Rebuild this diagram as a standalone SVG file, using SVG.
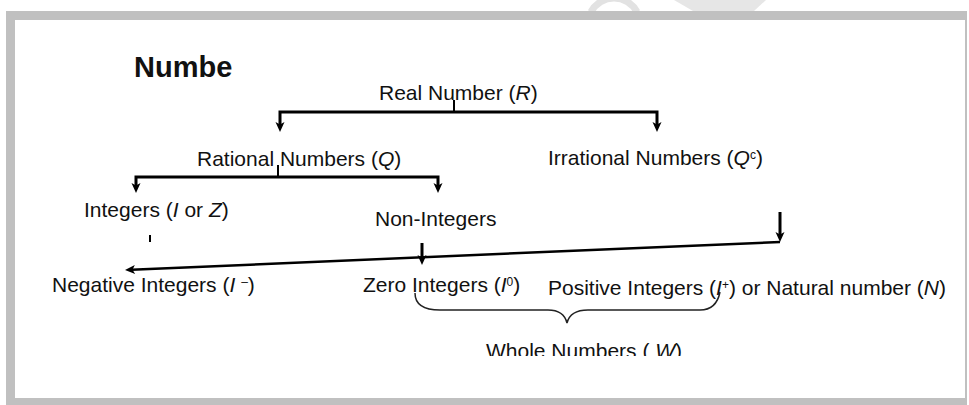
<svg xmlns="http://www.w3.org/2000/svg" width="969" height="405" viewBox="0 0 969 405">
<style>
text{font-family:"Liberation Sans",Arial,sans-serif;font-size:21px;fill:#111}
.it{font-style:italic}
.sup{font-size:12px}
.ln{fill:none;stroke:#000;stroke-width:3}
.tk{fill:none;stroke:#000;stroke-width:2}
.br{fill:none;stroke:#222;stroke-width:1.5}
</style>
<defs>
<marker id="ah" viewBox="-1 -6 13 12" markerWidth="13" markerHeight="12" refX="3.5" refY="0" orient="auto" markerUnits="userSpaceOnUse">
<path d="M0,-4.5 L10,0 L0,4.5 L2.5,0 Z" fill="#000"/>
</marker>
<clipPath id="clipZero"><rect x="340" y="260" width="200" height="36"/></clipPath>
<clipPath id="clipWhole"><rect x="470" y="330" width="230" height="26"/></clipPath>
</defs>
<g id="watermark">
<path d="M591,12 A26,26 0 0 1 637,12" fill="none" stroke="#e2e2e2" stroke-width="7"/>
<polygon points="674,0 766,0 754,11 693,11" fill="#e6e6e6"/>
</g>
<g id="frame">
<rect x="6" y="11" width="961" height="394" fill="#c0c0c0"/>
<rect x="15" y="20" width="950" height="378" fill="#fff"/>
</g>
<g id="connectors">
<path class="tk" d="M454,100 V112"/>
<path class="ln" d="M454,112 H280 V125.5" marker-end="url(#ah)"/>
<path class="ln" d="M454,112 H657 V125.5" marker-end="url(#ah)"/>
<path class="tk" d="M278,165 V177"/>
<path class="ln" d="M278,177 H136 V186.5" marker-end="url(#ah)"/>
<path class="ln" d="M278,177 H438 V186.5" marker-end="url(#ah)"/>
<path class="tk" d="M150,235 V242"/>
<path class="ln" d="M422,243 V258.5" marker-end="url(#ah)"/>
<path class="ln" d="M780,212 V235.5" marker-end="url(#ah)"/>
<path d="M780,242 L131.5,269.7" fill="none" stroke="#000" stroke-width="2.5" marker-end="url(#ah)"/>
<path class="br" d="M415,293 C415,305 425,310 440,310 L548,310 C560,310 565,315 567,323 C569,315 575,310 588,310 L700,310 C712,310 718,302 720,292"/>
</g>
<g id="title"><text x="134" y="77" style="font-weight:bold;font-size:29px">Numbe</text></g>
<g id="real"><text x="379" y="100">Real Number (<tspan class="it">R</tspan>)</text></g>
<g id="rational"><text x="197" y="166">Rational Numbers (<tspan class="it">Q</tspan>)</text></g>
<g id="irrational"><text x="548" y="165">Irrational Numbers (<tspan class="it">Q</tspan><tspan class="sup" dy="-6">c</tspan><tspan dy="6">)</tspan></text></g>
<g id="integers"><text x="84" y="217">Integers (<tspan class="it">I</tspan> or <tspan class="it">Z</tspan>)</text></g>
<g id="non-integers"><text x="375" y="226">Non-Integers</text></g>
<g id="negative"><text x="52" y="292">Negative Integers (<tspan class="it">I</tspan> <tspan class="sup" dy="-6">–</tspan><tspan dy="6">)</tspan></text></g>
<g id="zero"><text x="363" y="292" clip-path="url(#clipZero)">Zero Integers (<tspan class="it">I</tspan><tspan class="sup" dy="-6">0</tspan><tspan dy="6">)</tspan></text></g>
<g id="positive"><text x="548" y="295">Positive Integers (<tspan class="it">I</tspan><tspan class="sup" dy="-6">+</tspan><tspan dy="6">) or Natural number (</tspan><tspan class="it">N</tspan>)</text></g>
<g id="whole"><text x="486" y="358" clip-path="url(#clipWhole)">Whole Numbers ( <tspan class="it">W</tspan>)</text></g>
</svg>
